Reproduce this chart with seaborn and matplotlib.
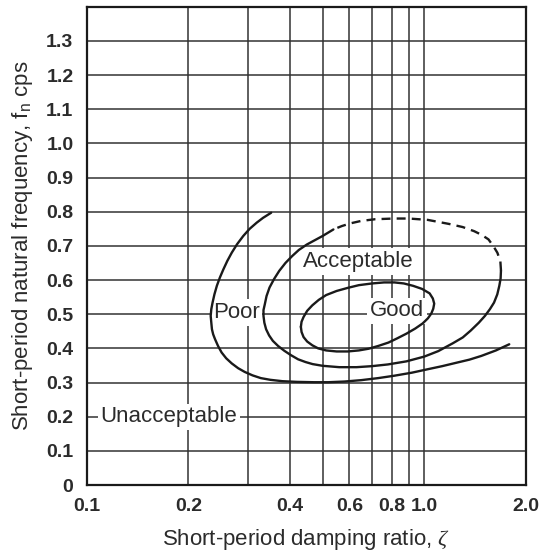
import numpy as np
import pandas as pd
import matplotlib
matplotlib.use("Agg")
import matplotlib.pyplot as plt
import seaborn as sns

# ── boundaries (zeta, f_n) ────────────────────────────────
# outer line: poor / unacceptable
poor_zeta = [0.352, 0.333, 0.319, 0.304, 0.291, 0.279, 0.269, 0.261, 0.254, 0.248,
             0.243, 0.239, 0.236, 0.234, 0.233, 0.234, 0.235, 0.237, 0.240, 0.245,
             0.251, 0.259, 0.269, 0.281, 0.294, 0.310, 0.328, 0.350, 0.380, 0.420,
             0.470, 0.520, 0.580, 0.650, 0.730, 0.815, 0.920, 1.024, 1.13, 1.245,
             1.36, 1.476, 1.63, 1.785]
poor_fn   = [0.797, 0.782, 0.768, 0.750, 0.729, 0.705, 0.680, 0.656, 0.631, 0.607,
             0.583, 0.558, 0.534, 0.515, 0.495, 0.475, 0.456, 0.441, 0.427, 0.407,
             0.388, 0.371, 0.356, 0.342, 0.331, 0.321, 0.313, 0.308, 0.304, 0.302,
             0.301, 0.301, 0.303, 0.307, 0.313, 0.320, 0.329, 0.339, 0.348, 0.358,
             0.367, 0.378, 0.394, 0.412]

# middle line: acceptable / poor (solid part)
acc_zeta = [0.538, 0.500, 0.449, 0.425, 0.406, 0.388, 0.372, 0.359, 0.348, 0.341,
            0.337, 0.334, 0.334, 0.336, 0.340, 0.347, 0.356, 0.369, 0.385, 0.403,
            0.423, 0.445, 0.467, 0.500, 0.560, 0.630, 0.700, 0.780, 0.885, 1.000,
            1.100, 1.215, 1.300, 1.372, 1.450, 1.512, 1.565, 1.609, 1.645, 1.668,
            1.683, 1.687]
acc_fn   = [0.748, 0.729, 0.704, 0.688, 0.670, 0.650, 0.627, 0.603, 0.578, 0.553,
            0.529, 0.512, 0.495, 0.475, 0.456, 0.438, 0.422, 0.407, 0.393, 0.380,
            0.368, 0.360, 0.354, 0.349, 0.345, 0.345, 0.348, 0.353, 0.362, 0.376,
            0.392, 0.415, 0.432, 0.452, 0.475, 0.495, 0.515, 0.534, 0.558, 0.583,
            0.605, 0.628]

# dashed (uncertain) top of the acceptable region
accd_zeta = [1.687, 1.680, 1.646, 1.600, 1.549, 1.480, 1.405, 1.300, 1.186, 1.024,
             0.900, 0.815, 0.716, 0.650, 0.605, 0.570, 0.538]
accd_fn   = [0.628, 0.655, 0.680, 0.700, 0.719, 0.732, 0.743, 0.755, 0.764, 0.776,
             0.780, 0.780, 0.778, 0.773, 0.766, 0.758, 0.748]

# inner closed line: good
good_zeta = [0.431, 0.433, 0.439, 0.450, 0.466, 0.487, 0.512, 0.550, 0.593, 0.640,
             0.700, 0.760, 0.816, 0.870, 0.927, 0.985, 1.037, 1.060, 1.070, 1.063,
             1.049, 1.025, 0.989, 0.940, 0.885, 0.830, 0.783, 0.730, 0.684, 0.640,
             0.593, 0.550, 0.512, 0.485, 0.466, 0.450, 0.439, 0.433, 0.431]
good_fn   = [0.463, 0.478, 0.492, 0.510, 0.526, 0.542, 0.556, 0.568, 0.577, 0.585,
             0.590, 0.593, 0.593, 0.590, 0.583, 0.574, 0.561, 0.546, 0.531, 0.516,
             0.502, 0.488, 0.473, 0.458, 0.443, 0.429, 0.417, 0.407, 0.399, 0.394,
             0.391, 0.391, 0.394, 0.400, 0.409, 0.420, 0.433, 0.448, 0.463]

region_names = ["Poor", "Acceptable", "Good", "Unacceptable"]
region_zeta  = [0.277, 0.636, 0.831, 0.175]
region_fn    = [0.505, 0.654, 0.510, 0.200]

x_grid   = [0.1, 0.2, 0.3, 0.4, 0.5, 0.6, 0.7, 0.8, 0.9, 1.0, 2.0]
x_labels = ["0.1", "0.2", "", "0.4", "", "0.6", "", "0.8", "", "1.0", "2.0"]
y_grid   = [0, 0.1, 0.2, 0.3, 0.4, 0.5, 0.6, 0.7, 0.8, 0.9, 1.0, 1.1, 1.2, 1.3]
y_labels = ["0", "0.1", "0.2", "0.3", "0.4", "0.5", "0.6", "0.7", "0.8", "0.9",
            "1.0", "1.1", "1.2", "1.3"]

sns.set_style("white")
plt.rcParams["font.family"] = ["Liberation Sans", "DejaVu Sans"]
plt.rcParams["mathtext.fontset"] = "custom"
plt.rcParams["mathtext.rm"] = "Liberation Sans"
plt.rcParams["mathtext.it"] = "Liberation Serif:italic"
plt.rcParams["lines.solid_capstyle"] = "round"
plt.rcParams["lines.solid_joinstyle"] = "round"

INK = "#1a1a1a"
TXT = "#2b2b2b"

fig = plt.figure(figsize=(5.45, 5.55), dpi=100)
ax = fig.add_axes([0.159, 0.126, 0.806, 0.862])

kw = dict(ax=ax, sort=False, estimator=None, color=INK, lw=1.7, zorder=5)
sns.lineplot(x=poor_zeta, y=poor_fn, **kw)
sns.lineplot(x=acc_zeta, y=acc_fn, **kw)
sns.lineplot(x=good_zeta, y=good_fn, **kw)
sns.lineplot(x=accd_zeta, y=accd_fn, linestyle=(0, (3.8, 2.6)), **kw)

ax.set_xscale("log")
ax.set_xlim(0.1, 2.0)
ax.set_ylim(0, 1.4)
ax.set_xticks(x_grid)
ax.set_xticklabels(x_labels)
ax.xaxis.set_minor_locator(matplotlib.ticker.NullLocator())
ax.set_yticks(y_grid)
ax.set_yticklabels(y_labels)
ax.tick_params(length=0, labelsize=14, labelcolor=TXT)
ax.tick_params(axis="x", pad=9.5)
ax.tick_params(axis="y", pad=9.5)
for lab in ax.get_xticklabels() + ax.get_yticklabels():
    lab.set_fontweight("bold")

ax.set_axisbelow(True)
ax.grid(True, color="#333333", lw=1.1)
for sp in ax.spines.values():
    sp.set_color(INK)
    sp.set_linewidth(1.6)

for name, zx, fy in zip(region_names, region_zeta, region_fn):
    ax.text(zx, fy, name, ha="center", va="center", fontsize=16, color=TXT, zorder=3,
            bbox=dict(boxstyle="square,pad=0.12", fc="white", ec="none"))

ax.set_xlabel(r"Short-period damping ratio, $\zeta$", fontsize=16, color=TXT)
ax.set_ylabel(r"Short-period natural frequency, f$_\mathregular{n}$ cps", fontsize=16, color=TXT)
ax.xaxis.set_label_coords(0.5, -0.088)
ax.yaxis.set_label_coords(-0.118, 0.5)

fig.savefig("out.png", dpi=100, facecolor="white")
